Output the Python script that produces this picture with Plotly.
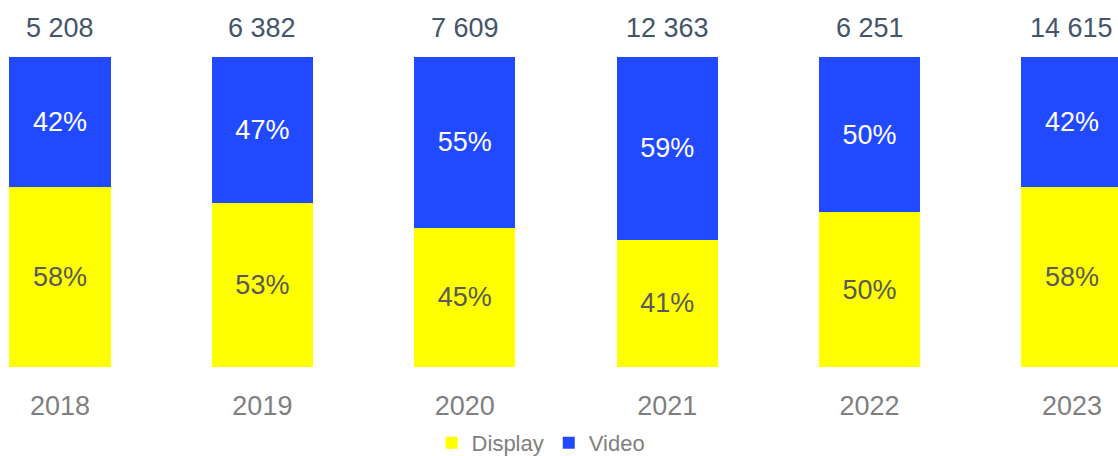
import plotly.graph_objects as go

years = ["2018", "2019", "2020", "2021", "2022", "2023"]
display_pct = [58, 53, 45, 41, 50, 58]
video_pct = [42, 47, 55, 59, 50, 42]
totals = ["5 208", "6 382", "7 609", "12 363", "6 251", "14 615"]

FONT = "Liberation Sans, Arial, sans-serif"
YELLOW = "#FFFF00"
BLUE = "#2149FF"

fig = go.Figure()
fig.add_trace(go.Bar(
    x=years, y=display_pct, name="Display", marker_color=YELLOW,
    marker_line_width=0, width=0.5,
    text=[f"{v}%" for v in display_pct], textposition="inside",
    insidetextanchor="middle",
    textfont=dict(size=27, color="#595959", family=FONT),
))
fig.add_trace(go.Bar(
    x=years, y=video_pct, name="Video", marker_color=BLUE,
    marker_line_width=0, width=0.5,
    text=[f"{v}%" for v in video_pct], textposition="inside",
    insidetextanchor="middle",
    textfont=dict(size=27, color="#FFFFFF", family=FONT),
))

for i, t in enumerate(totals):
    fig.add_annotation(x=i, y=100, xref="x", yref="y", text=t, showarrow=False,
                       yanchor="bottom", yshift=12,
                       font=dict(size=27, color="#44546A", family=FONT))

fig.update_layout(
    width=1118, height=456,
    barmode="stack",
    margin=dict(l=0, r=0, t=57, b=89, autoexpand=False),
    paper_bgcolor="white", plot_bgcolor="white",
    font=dict(family=FONT),
    showlegend=True,
    legend=dict(orientation="h", x=0.484, xanchor="center", y=-0.245,
                yanchor="middle", font=dict(size=22, color="#7F7F7F", family=FONT),
                traceorder="normal"),
)
fig.update_xaxes(type="category", range=[-0.2964, 5.2273], showgrid=False,
                 showline=False, zeroline=False, ticks="", ticklabelstandoff=20,
                 tickfont=dict(size=27, color="#7F7F7F", family=FONT))
fig.update_yaxes(range=[0, 100], visible=False, showgrid=False)

fig.write_html("out.html", config={"displayModeBar": False},
               post_script="document.body.style.margin='0';document.body.style.overflow='hidden';")
